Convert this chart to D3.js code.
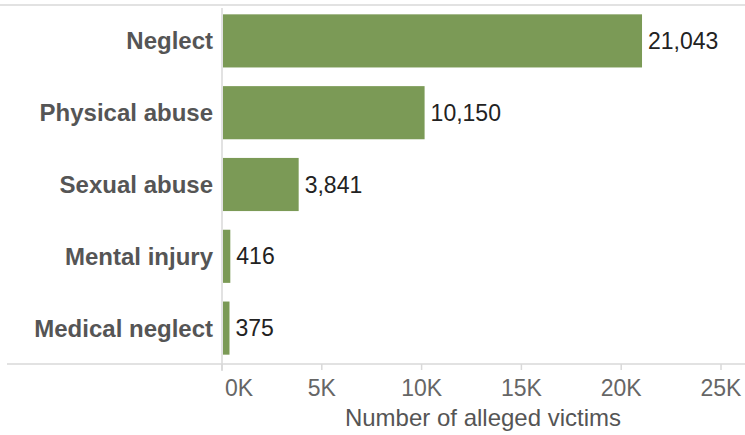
<!DOCTYPE html>
<meta charset="utf-8">
<script src="https://d3js.org/d3.v7.min.js"></script>
<style>
body { margin: 0; background: #fff; font-family: 'Liberation Sans', Arial, sans-serif; }
svg { display: block; }
.cat { font-size: 24px; font-weight: bold; fill: #555; }
.value { font-size: 23px; fill: #222; }
.tick-label { font-size: 23px; fill: #666; }
.axis-title { font-size: 24px; fill: #555; }
.rule { stroke: #d9d9d9; stroke-width: 1.5; }
</style>
<svg width="745" height="435"></svg>
<script>
const categories = ['Neglect', 'Physical abuse', 'Sexual abuse', 'Mental injury', 'Medical neglect'];
const victims = [21043, 10150, 3841, 416, 375];
const tickValues = [0, 5000, 10000, 15000, 20000, 25000];

const svg = d3.select('svg');
const x0 = 222, x1 = 721;
const plotTop = 5, plotBottom = 364;

const x = d3.scaleLinear().domain([0, 25000]).range([x0, x1]);
const y = d3.scaleBand().domain(categories).range([plotTop, plotBottom]).paddingInner(0.26).paddingOuter(0.13);

// frame lines
svg.append('line').attr('class', 'rule')
  .attr('x1', 0).attr('x2', 745).attr('y1', plotTop).attr('y2', plotTop);
svg.append('line').attr('class', 'rule')
  .attr('x1', 7).attr('x2', 745).attr('y1', plotBottom).attr('y2', plotBottom);
svg.append('line').attr('class', 'rule')
  .attr('x1', x0).attr('x2', x0).attr('y1', plotTop + 3).attr('y2', plotBottom + 7);

// ticks
svg.selectAll('.tick').data(tickValues).enter().append('line')
  .attr('class', 'rule')
  .attr('x1', d => x(d)).attr('x2', d => x(d))
  .attr('y1', plotBottom).attr('y2', plotBottom + 6);

// first label is pushed right so it doesn't hang off the axis
svg.selectAll('.tick-label').data(tickValues).enter().append('text')
  .attr('class', 'tick-label')
  .attr('x', (d, i) => i === 0 ? x(d) + 3 : x(d))
  .attr('y', 396)
  .attr('text-anchor', (d, i) => i === 0 ? 'start' : 'middle')
  .text(d => (d / 1000) + 'K');

svg.append('text').attr('class', 'axis-title')
  .attr('x', 483)
  .attr('y', 426)
  .attr('text-anchor', 'middle')
  .text('Number of alleged victims');

const rows = categories.map((c, i) => ({ cat: c, val: victims[i] }));

svg.selectAll('.bar').data(rows).enter().append('rect')
  .attr('class', 'bar')
  .attr('x', x(0) + 1)
  .attr('y', d => y(d.cat))
  .attr('width', d => Math.max(x(d.val) - x(0) - 1, 0))
  .attr('height', y.bandwidth())
  .attr('fill', '#7b9a56');

svg.selectAll('.value').data(rows).enter().append('text')
  .attr('class', 'value')
  .attr('x', d => x(d.val) + 6)
  .attr('y', d => y(d.cat) + y.bandwidth() / 2)
  .attr('dy', '0.35em')
  .text(d => d3.format(',')(d.val));

svg.selectAll('.cat').data(rows).enter().append('text')
  .attr('class', 'cat')
  .attr('x', 213)
  .attr('y', d => y(d.cat) + y.bandwidth() / 2)
  .attr('dy', '0.35em')
  .attr('text-anchor', 'end')
  .text(d => d.cat);
</script>
